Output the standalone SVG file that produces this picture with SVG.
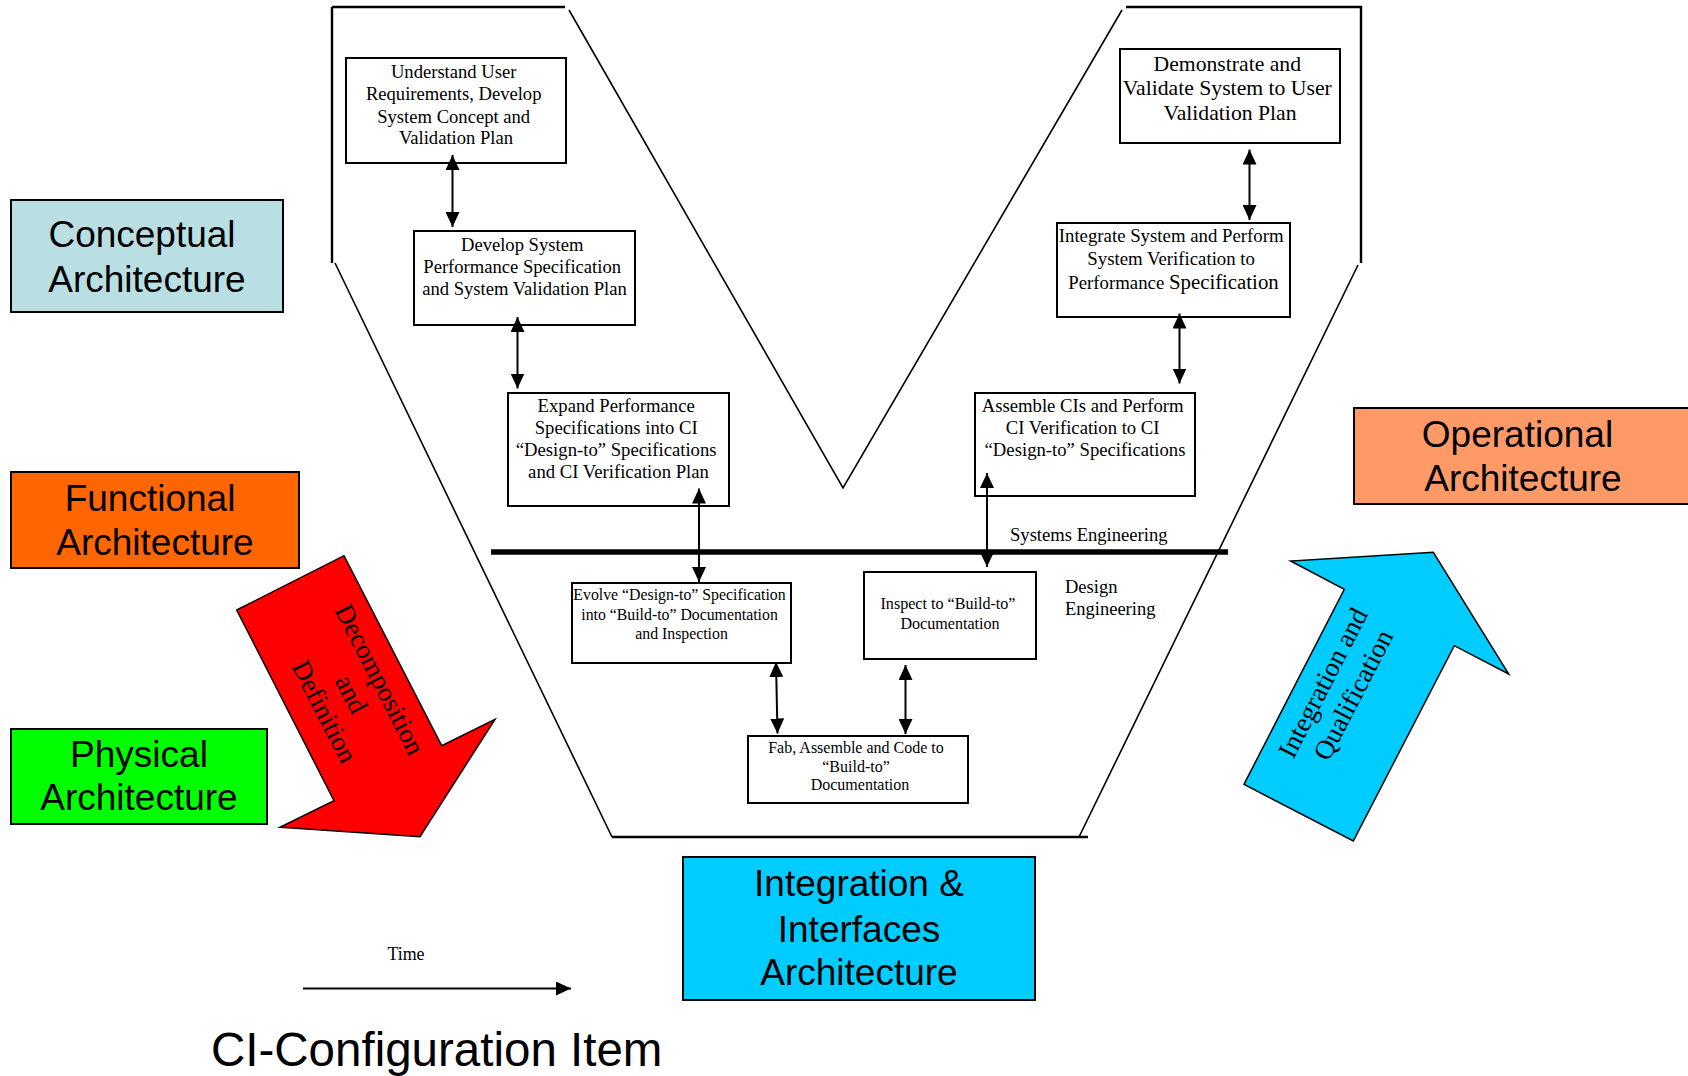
<svg xmlns="http://www.w3.org/2000/svg" width="1688" height="1076" viewBox="0 0 1688 1076">
  <style>
    .box { fill: #ffffff; stroke: #000000; stroke-width: 2; }
    .t { font-family: "Liberation Serif", "Times New Roman", serif; fill: #000000; text-anchor: middle; }
    .arch { stroke: #000000; stroke-width: 2; }
    .archText { font-family: "Liberation Sans", Arial, sans-serif; font-size: 37px; fill: #000000; text-anchor: middle; }
    .vline { fill: none; stroke: #000000; stroke-linecap: butt; }
    .link { stroke: #000000; stroke-width: 2; fill: none; marker-start: url(#head); marker-end: url(#head); }
  </style>
  <defs>
    <marker id="head" viewBox="0 0 15 14" refX="15" refY="7" markerWidth="15" markerHeight="14" markerUnits="userSpaceOnUse" orient="auto-start-reverse">
      <path d="M0,0 L15,7 L0,14 z" fill="#000000"/>
    </marker>
  </defs>
  <rect width="1688" height="1076" fill="#ffffff"/>

  <!-- V outline -->
  <g id="v-outline">
    <path class="vline" stroke-width="2.4" d="M332,7 H565 M332,7 V263 M1126,7 H1361 V263"/>
    <path class="vline" stroke-width="1.6" d="M335,263 L612,837 M1358,265 L1079,837 M569,10 L843,488 L1122,10"/>
    <path class="vline" stroke-width="2.4" d="M612,837 H1088"/>
  </g>

  <!-- Systems / design engineering divider -->
  <g id="divider">
    <line x1="491" y1="552" x2="1228" y2="552" stroke="#000000" stroke-width="5.5"/>
    <text class="t" x="1010" y="541" font-size="18.6" text-anchor="start" style="text-anchor:start">Systems Engineering</text>
    <text class="t" x="1065" y="593" font-size="18.5" style="text-anchor:start">Design</text>
    <text class="t" x="1065" y="615" font-size="18.5" style="text-anchor:start">Engineering</text>
  </g>

  <!-- Process boxes -->
  <g id="understand-requirements">
    <rect class="box" x="346" y="58" width="220" height="105"/>
    <text class="t" font-size="18.6" x="456">
      <tspan x="456" y="78">Understand User</tspan>
      <tspan x="456" y="100">Requirements, Develop</tspan>
      <tspan x="456" y="122.5">System Concept and</tspan>
      <tspan x="456" y="144">Validation Plan</tspan>
    </text>
  </g>

  <g id="develop-performance-spec">
    <rect class="box" x="414" y="231" width="221" height="94"/>
    <text class="t" font-size="18.6">
      <tspan x="524.5" y="251">Develop System</tspan>
      <tspan x="524.5" y="273">Performance Specification</tspan>
      <tspan x="524.5" y="295">and System Validation Plan</tspan>
    </text>
  </g>

  <g id="expand-ci-specs">
    <rect class="box" x="508" y="393" width="221" height="113"/>
    <text class="t" font-size="18.7">
      <tspan x="618.5" y="412">Expand Performance</tspan>
      <tspan x="618.5" y="434">Specifications into CI</tspan>
      <tspan x="618.5" y="456">“Design-to” Specifications</tspan>
      <tspan x="618.5" y="477.5">and CI Verification Plan</tspan>
    </text>
  </g>

  <g id="evolve-build-to">
    <rect class="box" x="572" y="583" width="219" height="80"/>
    <text class="t" font-size="15.8">
      <tspan x="681.5" y="600">Evolve “Design-to” Specification</tspan>
      <tspan x="681.5" y="620">into “Build-to” Documentation</tspan>
      <tspan x="681.5" y="638.5">and Inspection</tspan>
    </text>
  </g>

  <g id="fab-assemble-code">
    <rect class="box" x="748" y="736" width="220" height="67"/>
    <text class="t" font-size="16">
      <tspan x="858" y="753">Fab, Assemble and Code to</tspan>
      <tspan x="858" y="771.5">“Build-to”</tspan>
      <tspan x="860" y="790">Documentation</tspan>
    </text>
  </g>

  <g id="inspect-build-to">
    <rect class="box" x="864" y="572" width="172" height="87"/>
    <text class="t" font-size="16.1">
      <tspan x="950" y="608.5">Inspect to “Build-to”</tspan>
      <tspan x="950" y="628.5">Documentation</tspan>
    </text>
  </g>

  <g id="assemble-cis">
    <rect class="box" x="975" y="393" width="220" height="103"/>
    <text class="t" font-size="18.7">
      <tspan x="1085" y="412">Assemble CIs and Perform</tspan>
      <tspan x="1085" y="434">CI Verification to CI</tspan>
      <tspan x="1085" y="456">“Design-to” Specifications</tspan>
    </text>
  </g>

  <g id="integrate-system">
    <rect class="box" x="1057" y="223" width="233" height="94"/>
    <text class="t" font-size="18.8">
      <tspan x="1173.5" y="242">Integrate System and Perform</tspan>
      <tspan x="1173.5" y="264.5">System Verification to</tspan>
      <tspan x="1173.5" y="288.5">Performance <tspan font-size="20.8">Specification</tspan></tspan>
    </text>
  </g>

  <g id="demonstrate-validate">
    <rect class="box" x="1120" y="49" width="220" height="94"/>
    <text class="t" font-size="21.7">
      <tspan x="1230" y="71">Demonstrate and</tspan>
      <tspan x="1230" y="95">Validate System to User</tspan>
      <tspan x="1230" y="119.5">Validation Plan</tspan>
    </text>
  </g>

  <!-- Architecture views -->
  <g id="conceptual-architecture">
    <rect class="arch" x="11" y="200" width="272" height="112" fill="#B9DFE3"/>
    <text class="archText"><tspan x="142" y="247">Conceptual</tspan><tspan x="147" y="291.5">Architecture</tspan></text>
  </g>

  <g id="functional-architecture">
    <rect class="arch" x="11" y="472" width="288" height="96" fill="#FF6600"/>
    <text class="archText"><tspan x="150" y="510.5">Functional</tspan><tspan x="155" y="554.5">Architecture</tspan></text>
  </g>

  <g id="physical-architecture">
    <rect class="arch" x="11" y="729" width="256" height="95" fill="#00FF00"/>
    <text class="archText"><tspan x="139" y="766.5">Physical</tspan><tspan x="139" y="810">Architecture</tspan></text>
  </g>

  <g id="operational-architecture">
    <rect class="arch" x="1354" y="408" width="345" height="96" fill="#FF9966"/>
    <text class="archText"><tspan x="1517.5" y="447">Operational</tspan><tspan x="1523" y="491">Architecture</tspan></text>
  </g>

  <g id="integration-interfaces-architecture">
    <rect class="arch" x="683" y="857" width="352" height="143" fill="#00CCFF"/>
    <text class="archText"><tspan x="859" y="896">Integration &amp;</tspan><tspan x="859" y="941.5">Interfaces</tspan><tspan x="859" y="985">Architecture</tspan></text>
  </g>

  <!-- Block arrows -->
  <g id="decomposition-arrow">
    <polygon points="236.7,610 344,555.7 441.7,745.7 495,719.3 420,836.7 280,827.3 334,800.7" fill="#FF0000" stroke="#000000" stroke-width="1.5" stroke-linejoin="miter"/>
    <g transform="translate(353,697) rotate(62.9)">
      <text class="t" font-size="27">
        <tspan x="0" y="-23">Decomposition</tspan>
        <tspan x="0" y="9">and</tspan>
        <tspan x="0" y="41">Definition</tspan>
      </text>
    </g>
  </g>

  <g id="integration-arrow">
    <polygon points="1244,784.3 1353.3,841 1454.3,645.7 1508.7,674 1433.3,552.3 1290.7,561 1344.3,589.3" fill="#00CCFF" stroke="#000000" stroke-width="1.5"/>
    <g transform="translate(1339,687.5) rotate(-62.7)">
      <text class="t" font-size="27">
        <tspan x="0" y="-7.5">Integration and</tspan>
        <tspan x="0" y="25">Qualification</tspan>
      </text>
    </g>
  </g>

  <!-- Connectors -->
  <g id="connectors">
    <line class="link" x1="452.5" y1="155" x2="452.5" y2="227"/>
    <line class="link" x1="517.5" y1="317" x2="517.5" y2="388.5"/>
    <line class="link" x1="699" y1="488.5" x2="699" y2="582"/>
    <line class="link" x1="776" y1="662" x2="777.5" y2="733.5"/>
    <line class="link" x1="905.5" y1="665" x2="905.5" y2="734"/>
    <line class="link" x1="987" y1="473" x2="987" y2="567"/>
    <line class="link" x1="1179.5" y1="313.5" x2="1179.5" y2="383.5"/>
    <line class="link" x1="1249.5" y1="149.5" x2="1249.5" y2="220"/>
  </g>

  <!-- Time axis -->
  <g id="time-axis">
    <text class="t" x="406" y="960" font-size="17.9">Time</text>
    <line x1="303" y1="988.5" x2="571" y2="988.5" stroke="#000000" stroke-width="2" marker-end="url(#head)"/>
  </g>

  <g id="legend">
    <text x="211" y="1066" font-family="Liberation Sans, Arial, sans-serif" font-size="47.5" fill="#000000">CI-Configuration Item</text>
  </g>
</svg>
